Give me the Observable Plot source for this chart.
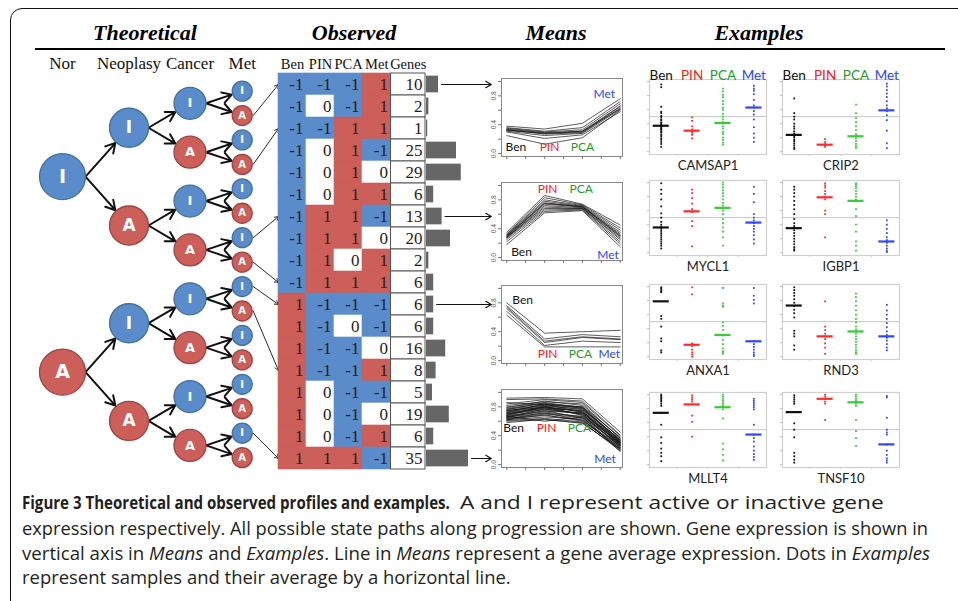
<!DOCTYPE html>
<html><head><meta charset="utf-8">
<script src="https://cdn.jsdelivr.net/npm/d3@7"></script>
<script src="https://cdn.jsdelivr.net/npm/@observablehq/plot@0.6"></script>
<style>
body{margin:0;background:#fff;}
#fig{position:relative;width:958px;height:601px;overflow:hidden;background:#fff;}
.border{position:absolute;left:10px;top:8px;width:1000px;height:700px;border:1.6px solid #111;border-radius:12px;box-sizing:border-box;}
.hdr{position:absolute;font:italic bold 22px/22px "Liberation Serif",serif;color:#000;transform:translateX(-50%);white-space:nowrap;}
.rule{position:absolute;left:35px;top:48px;width:910px;height:2px;background:#000;}
</style></head><body><div id="fig"><div class="border"></div><div class="rule"></div></div>
<script>
// ---------------- DATA ----------------
const stages = ["Ben", "PIN", "PCA", "Met"];
const treeLevels = ["Nor", "Neoplasy", "Cancer", "Met"];
const nodeStates = ["I", "A"];
const tableCols = ["Ben", "PIN", "PCA", "Met", "Genes"];
const observedStates = [
  [-1,-1,-1,1],[-1,0,-1,1],[-1,-1,1,1],[-1,0,1,-1],[-1,0,1,0],[-1,0,1,1],
  [-1,1,1,-1],[-1,1,1,0],[-1,1,0,1],[-1,1,1,1],
  [1,-1,-1,-1],[1,-1,0,-1],[1,-1,-1,0],[1,-1,-1,1],[1,0,-1,-1],[1,0,-1,0],[1,0,-1,1],[1,1,1,-1]
];
const geneCounts = [10,2,1,25,29,6,13,20,2,6,6,6,16,8,5,19,6,35];
const meansRows = [0, 6, 10, 17];

const meansP1 = [
  [0.38,0.34,0.42,0.76],[0.36,0.31,0.36,0.72],[0.35,0.30,0.33,0.69],[0.34,0.29,0.31,0.66],
  [0.33,0.28,0.30,0.65],[0.33,0.27,0.29,0.63],[0.32,0.28,0.31,0.62],[0.31,0.25,0.28,0.61],
  [0.30,0.21,0.26,0.58],[0.25,0.13,0.22,0.60]
];
const meansP2 = [
  [0.35,0.86,0.74,0.45],[0.33,0.83,0.73,0.41],[0.32,0.80,0.72,0.38],[0.31,0.78,0.71,0.35],
  [0.30,0.76,0.70,0.33],[0.30,0.75,0.71,0.31],[0.29,0.74,0.70,0.30],[0.28,0.72,0.69,0.29],
  [0.28,0.70,0.68,0.27],[0.27,0.68,0.68,0.25],[0.25,0.66,0.67,0.22],[0.22,0.64,0.66,0.19],
  [0.18,0.62,0.65,0.15]
];
const meansP3 = [
  [0.80,0.38,0.40,0.42],[0.76,0.30,0.36,0.33],[0.74,0.27,0.33,0.30],
  [0.72,0.25,0.32,0.29],[0.68,0.21,0.27,0.25],[0.63,0.19,0.19,0.19]
];
const meansP4 = [
  [0.92,0.93,0.91,0.45],[0.90,0.91,0.88,0.41],[0.86,0.83,0.80,0.38],[0.84,0.90,0.86,0.40],
  [0.82,0.87,0.84,0.36],[0.80,0.85,0.78,0.34],[0.79,0.88,0.82,0.37],[0.78,0.84,0.80,0.33],
  [0.77,0.82,0.76,0.35],[0.76,0.86,0.79,0.31],[0.75,0.81,0.77,0.32],[0.75,0.79,0.74,0.30],
  [0.74,0.83,0.78,0.34],[0.73,0.80,0.73,0.29],[0.72,0.78,0.75,0.31],[0.72,0.84,0.72,0.28],
  [0.71,0.77,0.71,0.33],[0.70,0.80,0.74,0.27],[0.70,0.76,0.70,0.30],[0.69,0.79,0.69,0.26],
  [0.68,0.74,0.72,0.29],[0.68,0.81,0.68,0.25],[0.67,0.73,0.66,0.28],[0.66,0.77,0.70,0.24],
  [0.66,0.71,0.67,0.31],[0.65,0.75,0.64,0.23],[0.64,0.70,0.65,0.27],[0.64,0.68,0.62,0.22],
  [0.63,0.72,0.61,0.26],[0.62,0.66,0.63,0.20],[0.62,0.69,0.60,0.24],[0.61,0.64,0.59,0.19],
  [0.60,0.62,0.58,0.21],[0.67,0.60,0.66,0.18],[0.58,0.63,0.57,0.22]
];
// stage-label annotations inside each Means panel (stage units, expression units)
const meansLabels = [
  [{s:"Ben",x:1.24,y:0.03},{s:"PIN",x:2.13,y:0.03},{s:"PCA",x:3.0,y:0.03},{s:"Met",x:3.58,y:0.77}],
  [{s:"Ben",x:1.39,y:0.02},{s:"PIN",x:2.08,y:0.89},{s:"PCA",x:2.97,y:0.89},{s:"Met",x:3.68,y:-0.02}],
  [{s:"Ben",x:1.42,y:0.78},{s:"PIN",x:2.08,y:0.04},{s:"PCA",x:2.95,y:0.04},{s:"Met",x:3.71,y:0.04}],
  [{s:"Ben",x:1.18,y:0.45},{s:"PIN",x:2.05,y:0.45},{s:"PCA",x:2.92,y:0.45},{s:"Met",x:3.6,y:0.02}]
];

const exampleGenes = ["CAMSAP1","CRIP2","MYCL1","IGBP1","ANXA1","RND3","MLLT4","TNSF10"];
const CAMSAP1 = {
  Ben:[0.96,0.92,0.64,0.57,0.55,0.51,0.49,0.46,0.45,0.42,0.41,0.39,0.38,0.37,0.36,0.35,0.33,0.32,0.30,0.28,0.27,0.24,0.22,0.19,0.17,0.14,0.11,0.07],
  PIN:[0.49,0.44,0.36,0.32,0.29,0.27,0.24,0.19],
  PCA:[0.90,0.86,0.81,0.78,0.72,0.68,0.63,0.60,0.54,0.50,0.46,0.42,0.40,0.36,0.33,0.28,0.25,0.20,0.17,0.13,0.10],
  Met:[0.94,0.90,0.87,0.82,0.74,0.66,0.63,0.58,0.53,0.46,0.35,0.26,0.20,0.14]
};
const CRIP2 = {
  Ben:[0.76,0.55,0.50,0.46,0.40,0.36,0.33,0.29,0.26,0.24,0.22,0.20,0.17,0.15,0.12,0.09,0.06,0.04],
  PIN:[0.18,0.14,0.11,0.09,0.07],
  PCA:[0.67,0.55,0.48,0.42,0.36,0.31,0.25,0.22,0.19,0.15,0.11,0.08,0.05],
  Met:[0.97,0.93,0.88,0.83,0.78,0.72,0.66,0.62,0.58,0.52,0.45,0.30,0.12,0.05]
};
const MYCL1 = {
  Ben:[0.99,0.90,0.84,0.76,0.66,0.56,0.50,0.44,0.40,0.37,0.34,0.31,0.28,0.25,0.22,0.19,0.16,0.13,0.10,0.06],
  PIN:[0.90,0.85,0.78,0.70,0.62,0.58,0.45,0.38,0.09],
  PCA:[1.0,0.97,0.93,0.89,0.85,0.81,0.76,0.71,0.67,0.64,0.60,0.55,0.48,0.42,0.36,0.30,0.22,0.10],
  Met:[0.94,0.84,0.72,0.55,0.50,0.46,0.42,0.38,0.34,0.30,0.25,0.19,0.13]
};
const IGBP1 = {
  Ben:[0.94,0.90,0.85,0.80,0.74,0.68,0.62,0.55,0.48,0.42,0.38,0.35,0.32,0.28,0.24,0.20,0.16,0.12,0.08,0.05,0.03],
  PIN:[0.99,0.96,0.93,0.88,0.84,0.80,0.76,0.60,0.55,0.22],
  PCA:[0.99,0.97,0.95,0.92,0.88,0.84,0.80,0.76,0.74,0.62,0.52,0.40,0.30,0.16,0.10,0.03],
  Met:[0.46,0.40,0.34,0.28,0.22,0.18,0.14,0.10,0.06,0.03,0.01]
};
const ANXA1 = {
  Ben:[0.99,0.97,0.95,0.93,0.92,0.58,0.54,0.43,0.26,0.22,0.09,0.06],
  PIN:[0.99,0.89,0.19,0.15,0.10,0.06,0.03,0.0],
  PCA:[0.98,0.76,0.73,0.71,0.49,0.44,0.38,0.31,0.24,0.18,0.12,0.08,0.06,0.04],
  Met:[0.98,0.87,0.81,0.76,0.22,0.18,0.14,0.10,0.06,0.03,0.01]
};
const RND3 = {
  Ben:[0.99,0.95,0.91,0.87,0.82,0.77,0.72,0.67,0.62,0.56,0.37,0.33,0.29,0.16,0.10],
  PIN:[0.79,0.43,0.38,0.33,0.29,0.25,0.19,0.13,0.04],
  PCA:[0.90,0.85,0.79,0.73,0.66,0.60,0.54,0.49,0.43,0.39,0.36,0.33,0.29,0.25,0.21,0.17,0.13,0.09,0.06,0.04],
  Met:[0.74,0.66,0.60,0.54,0.48,0.42,0.36,0.31,0.27,0.23,0.18,0.13,0.09]
};
const MLLT4 = {
  Ben:[1.0,0.98,0.96,0.94,0.92,0.90,0.87,0.84,0.74,0.57,0.39,0.31,0.23,0.17,0.12,0.05],
  PIN:[0.99,0.96,0.93,0.90,0.70,0.61,0.40],
  PCA:[1.0,0.97,0.94,0.91,0.88,0.85,0.82,0.79,0.66,0.30,0.22,0.14,0.06],
  Met:[0.94,0.91,0.88,0.85,0.82,0.79,0.57,0.43,0.38,0.33,0.26,0.20,0.15,0.11,0.07]
};
const TNSF10 = {
  Ben:[0.99,0.96,0.93,0.90,0.87,0.59,0.50,0.39,0.17,0.12,0.07,0.03],
  PIN:[1.0,0.97,0.94,0.90,0.87,0.64],
  PCA:[1.0,0.97,0.94,0.91,0.87,0.84,0.64,0.48,0.38,0.27],
  Met:[0.98,0.96,0.67,0.50,0.46,0.43,0.29,0.20,0.14,0.09,0.06,0.03]
};
const exampleSamples = [CAMSAP1, CRIP2, MYCL1, IGBP1, ANXA1, RND3, MLLT4, TNSF10];
const exampleMeans = [
  [0.37,0.30,0.41,0.63],[0.24,0.10,0.22,0.59],[0.36,0.59,0.64,0.43],[0.35,0.79,0.74,0.16],
  [0.79,0.17,0.31,0.22],[0.73,0.29,0.36,0.29],[0.74,0.86,0.82,0.43],[0.75,0.94,0.89,0.29]
];

// ---------------- STYLE ----------------
const BLUE = "#5a8ccb", RED = "#cc5f59";
const BLUE_S = "#41719c", RED_S = "#9c4440";
const stateFill = {"-1": BLUE, "1": RED, "0": "#ffffff"};
const labelColor = {Ben: "#111111", PIN: "#ee2222", PCA: "#1f9a2e", Met: "#2a48f0"};
const dotColor = {Ben: "#111111", PIN: "#ff2a2a", PCA: "#33cc33", Met: "#3344ff"};
const SERIF = "Liberation Serif, serif";
const SANS = "Lato, sans-serif";

const fig = document.getElementById("fig");
function place(el, left, top) {
  el.style.position = "absolute"; el.style.left = left + "px"; el.style.top = top + "px";
  el.style.overflow = "visible"; el.style.maxWidth = "none"; el.style.background = "transparent";
  fig.appendChild(el); return el;
}

// headers
[["Theoretical",145],["Observed",354],["Means",556],["Examples",759]].forEach(([t,x]) => {
  const d = document.createElement("div"); d.className = "hdr"; d.textContent = t;
  d.style.left = x + "px"; d.style.top = "22px"; fig.appendChild(d);
});

// ---------------- TREE ----------------
const yRow = {type: "linear", domain: [-0.5, 17.5], range: [73, 469], axis: null};
const xLevel = d3.scaleLinear([0,1,2,3,4], [62,128.5,189.5,241.7,278]);
const leafRow = d3.scaleLinear([0,15], [0.3,16.96]);
const nodeR = [23, 19.5, 16, 10];
const nodeFont = [19, 17, 13, 10];
const nodes = [];
treeLevels.forEach((name, L) => {
  const n = 2 ** (L + 1), span = 2 ** (3 - L);
  for (let j = 0; j < n; j++) nodes.push({level: L, j, state: nodeStates[j % 2], row: leafRow(j * span + (span - 1) / 2)});
});
const edges = nodes.filter(d => d.level < 3).flatMap(p => [0, 1].map(k => ({p, c: nodes.find(n => n.level === p.level + 1 && n.j === 2 * p.j + k)})));
const leafPath = j => [3,2,1,0].map(s => ((j >> s) & 1) ? 1 : -1);
const leafLinks = nodes.filter(d => d.level === 3).map(d => ({leaf: d, row: observedStates.findIndex(r => r.join() === leafPath(d.j).join())})).filter(d => d.row >= 0);

const treeMarks = [];
[0,1,2].forEach(L => {
  treeMarks.push(Plot.arrow(edges.filter(e => e.p.level === L), {
    x1: e => xLevel.invert(xLevel(e.p.level) + nodeR[L]), y1: e => e.p.row,
    x2: e => e.c.level, y2: e => e.c.row,
    insetEnd: nodeR[L + 1] + 1, stroke: "#111", strokeWidth: 2, headLength: 8, headAngle: 60
  }));
});
treeMarks.push(Plot.arrow(leafLinks, {
  x1: d => xLevel.invert(xLevel(3) + nodeR[3] + 1), y1: d => d.leaf.row, x2: () => 4, y2: d => d.row,
  stroke: "#111", strokeWidth: 0.9, headLength: 7, headAngle: 60
}));
[0,1,2,3].forEach(L => {
  const sub = nodes.filter(d => d.level === L);
  treeMarks.push(Plot.dot(sub, {x: "level", y: "row", r: nodeR[L], fill: d => d.state === "I" ? BLUE : RED, stroke: d => d.state === "I" ? BLUE_S : RED_S, strokeWidth: 1.3}));
  treeMarks.push(Plot.text(sub, {x: "level", y: "row", text: "state", fill: "white", fontWeight: "bold", fontSize: nodeFont[L], fontFamily: "DejaVu Sans, sans-serif"}));
});
treeMarks.push(Plot.text(treeLevels, {x: (d, i) => i, y: () => -0.7, text: d => d, fontSize: 17, fontFamily: SERIF, fill: "#111", lineAnchor: "bottom"}));

place(Plot.plot({
  width: 500, height: 480, margin: 0,
  x: {type: "linear", domain: [0,1,2,3,4], range: [62,128.5,189.5,241.7,278], axis: null},
  y: yRow, color: {type: "identity"},
  marks: treeMarks
}), 0, 0);

// ---------------- TABLE ----------------
const cells = observedStates.flatMap((r, ri) => r.map((v, ci) => ({row: ri, col: ci, v})));
const geneRows = geneCounts.map((g, ri) => ({row: ri, g}));
place(Plot.plot({
  width: 500, height: 480, margin: 0,
  x: {type: "linear", domain: [0,1,2,3,4,5], range: [278,306,334,362,390.5,425], axis: null},
  y: yRow, color: {type: "identity"},
  marks: [
    Plot.rect(cells, {x1: "col", x2: d => d.col + 1, y1: d => d.row - 0.5, y2: d => d.row + 0.5, fill: d => stateFill[d.v], stroke: d => stateFill[d.v], strokeWidth: 0.6}),
    Plot.text(cells, {x: d => d.col + 1, y: "row", text: d => String(d.v), textAnchor: "end", dx: -3, fontSize: 17, fontFamily: SERIF, fill: "#2a1a1a"}),
    Plot.rect(geneRows, {x1: () => 4, x2: () => 5, y1: d => d.row - 0.5, y2: d => d.row + 0.5, fill: "white", stroke: "#555", strokeWidth: 1}),
    Plot.text(geneRows, {x: () => 5, y: "row", text: d => String(d.g), textAnchor: "end", dx: -3, fontSize: 17, fontFamily: SERIF, fill: "#2a1a1a"}),
    Plot.text(tableCols, {x: (d, i) => i + 0.5, y: () => -0.7, text: d => d, fontSize: 14.5, fontFamily: SERIF, fill: "#111", lineAnchor: "bottom"})
  ]
}), 0, 0);

// ---------------- BARS + links to Means ----------------
place(Plot.plot({
  width: 500, height: 480, margin: 0,
  x: {type: "linear", domain: [0, 56], range: [426, 493.2], axis: null},
  y: yRow,
  marks: [
    Plot.rect(geneRows, {x1: () => 0, x2: "g", y1: d => d.row - 0.38, y2: d => d.row + 0.38, fill: "#666"}),
    Plot.arrow(meansRows.map(r => ({row: r, g: geneCounts[r]})), {x1: d => d.g + 2.5, y1: "row", x2: () => 54, y2: "row", stroke: "#111", strokeWidth: 1.2, headLength: 8, headAngle: 60})
  ]
}), 0, 0);

// ---------------- MEANS PANELS ----------------
const meansSets = [meansP1, meansP2, meansP3, meansP4];
const meansTops = [78, 181.5, 285, 388.5];
meansSets.forEach((lines, pi) => {
  const data = lines.flatMap((v, gi) => v.map((y, si) => ({gene: gi, stage: si + 1, y})));
  place(Plot.plot({
    width: 148, height: 90, marginLeft: 23, marginRight: 4, marginTop: 3, marginBottom: 9,
    x: {domain: [0.86, 4.06], axis: null}, y: {domain: [-0.04, 1.04], axis: null}, color: {type: "identity"},
    marks: [
      Plot.frame({stroke: "#888", strokeWidth: 1}),
      Plot.axisY({ticks: [0,0.2,0.4,0.6,0.8,1], tickFormat: () => "", tickSize: 3, stroke: "#777", label: null}),
      Plot.axisY({ticks: [0,0.4,0.8], tickFormat: d => d.toFixed(1), tickSize: 0, tickPadding: 6, tickRotate: -90, fontSize: 6.5, fill: "#666", textAnchor: "middle", label: null}),
      Plot.axisX({ticks: [1,1.5,2,2.5,3,3.5,4], tickFormat: () => "", tickSize: 3, stroke: "#777", label: null}),
      Plot.line(data, {x: "stage", y: "y", z: "gene", stroke: "#111", strokeWidth: 0.8, strokeOpacity: 0.85}),
      Plot.text(meansLabels[pi], {x: "x", y: "y", text: "s", fill: d => labelColor[d.s], fontSize: 12, fontFamily: SANS, lineAnchor: "bottom"})
    ]
  }), 478, meansTops[pi] - 3);
});

// ---------------- EXAMPLE PANELS ----------------
const exLefts = [649, 782];
const exTops = [79, 180, 284, 392];
exampleGenes.forEach((name, k) => {
  const col = k % 2, rowi = Math.floor(k / 2), header = rowi === 0;
  const mt = header ? 20 : 2, ml = 8, fw = 117, fh = 75, mb = 18;
  const d = exampleSamples[k];
  const pts = stages.flatMap((s, gi) => d[s].map(v => ({g: gi + 1, s, v})));
  const mn = stages.map((s, gi) => ({g: gi + 1, s, v: exampleMeans[k][gi]}));
  const marks = [
    Plot.frame({stroke: "#cfcfcf", strokeWidth: 1.2}),
    Plot.ruleY([0.5], {stroke: "#c4c4c4", strokeWidth: 1}),
    Plot.axisY({ticks: [0,0.2,0.4,0.6,0.8,1], tickFormat: () => "", tickSize: 2, stroke: "#bbb", label: null}),
    Plot.axisX({ticks: [1.5,2.5,3.5], tickFormat: () => "", tickSize: 2, stroke: "#ccc", label: null}),
    Plot.dot(pts, {x: "g", y: "v", r: 1, symbol: "square", fill: p => dotColor[p.s]}),
    Plot.ruleY(mn, {y: "v", x1: p => p.g - 0.26, x2: p => p.g + 0.26, stroke: p => dotColor[p.s], strokeWidth: 2.2}),
    Plot.text([name], {frameAnchor: "bottom", dy: 15, fontSize: 13, fill: "#222", fontFamily: SANS})
  ];
  if (header) marks.push(Plot.text(stages, {x: (s, i) => i + 1, frameAnchor: "top", dy: -9, text: s => s, fill: s => labelColor[s], fontSize: 13.5, fontFamily: SANS}));
  place(Plot.plot({
    width: ml + fw + 4, height: mt + fh + mb, marginLeft: ml, marginRight: 4, marginTop: mt, marginBottom: mb,
    x: {domain: [0.62, 4.41], axis: null}, y: {domain: [-0.04, 1.03], axis: null}, color: {type: "identity"},
    marks
  }), exLefts[col] - ml, exTops[rowi] - mt);
});

// ---------------- CAPTION ----------------
const NS = "http://www.w3.org/2000/svg";
const cap = document.createElementNS(NS, "svg");
cap.setAttribute("width", 958); cap.setAttribute("height", 116);
cap.style.position = "absolute"; cap.style.left = "0px"; cap.style.top = "485px";
cap.innerHTML = `
<g font-family="Open Sans, sans-serif" font-size="18" fill="#231f20">
<text id="c1b" x="0" y="0" font-weight="bold">Figure 3 Theoretical and observed profiles and examples.</text>
<text id="c1n" x="0" y="0">A and I represent active or inactive gene</text>
<text id="c2" x="22" y="50">expression respectively. All possible state paths along progression are shown. Gene expression is shown in</text>
<text id="c3" x="22" y="75">vertical axis in <tspan font-style="italic">Means</tspan> and <tspan font-style="italic">Examples</tspan>. Line in <tspan font-style="italic">Means</tspan> represent a gene average expression. Dots in <tspan font-style="italic">Examples</tspan></text>
<text id="c4" x="22" y="99">represent samples and their average by a horizontal line.</text>
</g>`;
fig.appendChild(cap);
// full-width lines fitted to the reference extents; the last line keeps the same density
const fitTo = (id, w) => { const t = cap.querySelector("#" + id); const nat = t.getComputedTextLength(); t.setAttribute("textLength", w); t.setAttribute("lengthAdjust", "spacingAndGlyphs"); return w / nat; };
const f2 = fitTo("c2", 906), f3 = fitTo("c3", 908);
const fAvg = (f2 + f3) / 2;
const n4 = cap.querySelector("#c4").getComputedTextLength();
fitTo("c4", n4 * fAvg);
// first line: condensed bold lead-in, then the regular text out to the reference extent
const scaleTo = (id, x, y, w) => { const t = cap.querySelector("#" + id); const nat = t.getComputedTextLength(); t.setAttribute("transform", `translate(${x},${y}) scale(${w / nat},1)`); };
scaleTo("c1b", 22, 24, 428);
scaleTo("c1n", 460, 24, 424);
</script></body></html>
